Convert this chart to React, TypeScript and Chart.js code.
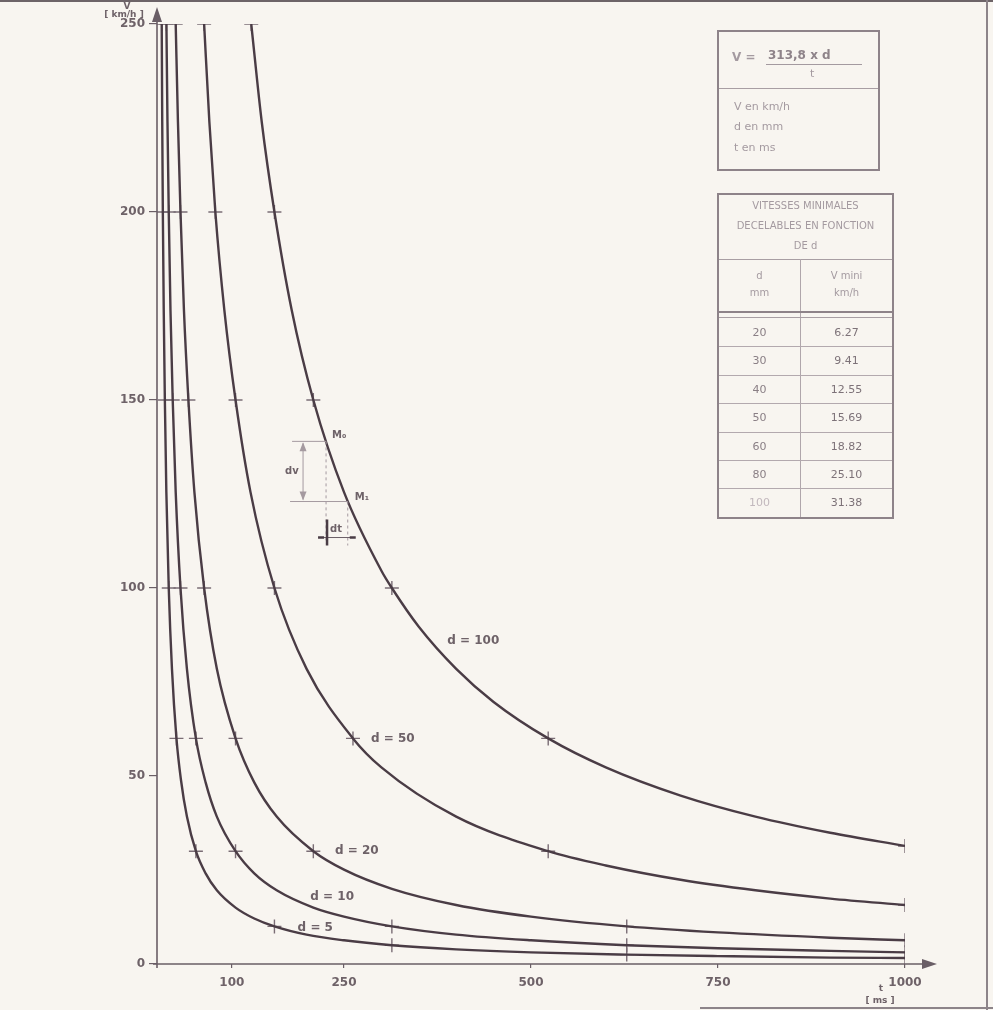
import React, { useEffect, useRef } from "react";
import { Chart, registerables } from "chart.js";

Chart.register(...registerables);

// ---------- data (t in ms, V in km/h) ----------
const xTicks = [100, 250, 500, 750, 1000];
const yTicks = [0, 50, 100, 150, 200, 250];

const curveNames = ["d = 5", "d = 10", "d = 20", "d = 50", "d = 100"];

const d5T = [6.3, 7, 7.8, 9, 10.5, 12.5, 15.7, 20, 26, 32, 40, 52, 65, 80, 105, 130, 157, 200, 250, 314, 400, 500, 628, 750, 900, 1000];
const d5V = [250, 224, 200, 174, 150, 125.5, 100, 78.5, 60, 49, 39.2, 30, 24.1, 19.6, 15, 12.1, 10, 7.8, 6.3, 5, 3.9, 3.1, 2.5, 2.1, 1.7, 1.6];

const d10T = [12.6, 14, 15.7, 18, 21, 25, 31.4, 40, 52, 65, 80, 105, 130, 160, 209, 250, 314, 400, 500, 628, 750, 900, 1000];
const d10V = [250, 224, 200, 174, 150, 125.5, 100, 78.5, 60, 48.3, 39.2, 30, 24.1, 19.6, 15, 12.6, 10, 7.8, 6.3, 5, 4.2, 3.5, 3.1];

const d20T = [25, 28, 31.4, 36, 42, 50, 63, 80, 105, 130, 160, 209, 250, 314, 400, 500, 628, 750, 900, 1000];
const d20V = [250, 224, 200, 174, 150, 125.5, 100, 78.5, 60, 48.3, 39.2, 30, 25.1, 20, 15.7, 12.6, 10, 8.4, 7, 6.3];

const d50T = [63, 70, 78, 90, 105, 125, 157, 200, 262, 300, 400, 523, 600, 700, 800, 900, 1000];
const d50V = [250, 224, 200, 174, 150, 125.5, 100, 78.5, 60, 52.3, 39.2, 30, 26.2, 22.4, 19.6, 17.4, 15.7];

const d100T = [126, 140, 157, 180, 209, 250, 300, 314, 350, 400, 450, 523, 600, 700, 800, 900, 1000];
const d100V = [250, 224, 200, 174, 150, 125.5, 104.6, 100, 89.7, 78.5, 69.7, 60, 52.3, 44.8, 39.2, 34.9, 31.4];

// marked points (crosses)
const m5T = [6.3, 7.8, 10.5, 15.7, 26, 52, 157, 314, 628, 1000];
const m5V = [250, 200, 150, 100, 60, 30, 10, 5, 2.5, 1.6];
const m10T = [12.6, 15.7, 21, 31.4, 52, 105, 314, 628, 1000];
const m10V = [250, 200, 150, 100, 60, 30, 10, 5, 3.1];
const m20T = [25, 31.4, 42, 63, 105, 209, 628, 1000];
const m20V = [250, 200, 150, 100, 60, 30, 10, 6.3];
const m50T = [63, 78, 105, 157, 262, 523, 1000];
const m50V = [250, 200, 150, 100, 60, 30, 15.7];
const m100T = [126, 157, 209, 314, 523, 1000];
const m100V = [250, 200, 150, 100, 60, 31.4];

// curve label anchors
const labelT = [188, 205, 238, 286, 388];
const labelV = [9.6, 17.8, 30, 60, 86];

// M0 / M1 construction points on d = 100
const mPtT = [226, 255];
const mPtV = [139, 123];

// table
const tableD = ["20", "30", "40", "50", "60", "80", "100"];
const tableVmin = ["6.27", "9.41", "12.55", "15.69", "18.82", "25.10", "31.38"];

const curvesT = [d5T, d10T, d20T, d50T, d100T];
const curvesV = [d5V, d10V, d20V, d50V, d100V];
const marksT = [m5T, m10T, m20T, m50T, m100T];
const marksV = [m5V, m10V, m20V, m50V, m100V];

const LINE = "#4a3c45";
const AXIS = "#6a5e66";
const TXT = "#6e6268";
const BG = "#f8f5f0";

const decorPlugin = {
  id: "decor",
  afterDatasetsDraw(chart: any) {
    const { ctx, chartArea, scales } = chart;
    const x = scales.x;
    const y = scales.y;
    const x0 = x.getPixelForValue(0);
    const y0 = y.getPixelForValue(0);
    ctx.save();
    ctx.strokeStyle = AXIS;
    ctx.fillStyle = AXIS;
    ctx.lineWidth = 1.6;
    // y axis with arrow
    ctx.beginPath();
    ctx.moveTo(x0, y0 + 4);
    ctx.lineTo(x0, chartArea.top - 10);
    ctx.stroke();
    ctx.beginPath();
    ctx.moveTo(x0, chartArea.top - 17);
    ctx.lineTo(x0 - 5, chartArea.top - 2);
    ctx.lineTo(x0 + 5, chartArea.top - 2);
    ctx.closePath();
    ctx.fill();
    // x axis with arrow
    ctx.beginPath();
    ctx.moveTo(x0 - 4, y0);
    ctx.lineTo(chartArea.right + 22, y0);
    ctx.stroke();
    ctx.beginPath();
    ctx.moveTo(chartArea.right + 32, y0);
    ctx.lineTo(chartArea.right + 17, y0 - 5);
    ctx.lineTo(chartArea.right + 17, y0 + 5);
    ctx.closePath();
    ctx.fill();

    // unit labels
    ctx.fillStyle = TXT;
    ctx.font = "bold 9px 'DejaVu Sans'";
    ctx.textAlign = "center";
    ctx.textBaseline = "middle";
    ctx.fillText("V", x0 - 30, chartArea.top - 17);
    ctx.fillText("[ km/h ]", x0 - 33, chartArea.top - 9);
    ctx.fillText("t", chartArea.right - 24, y0 + 25);
    ctx.fillText("[ ms ]", chartArea.right - 25, y0 + 37);

    // curve labels
    ctx.font = "bold 12px 'DejaVu Sans'";
    ctx.textAlign = "left";
    for (let i = 0; i < curveNames.length; i++) {
      ctx.fillText(curveNames[i], x.getPixelForValue(labelT[i]), y.getPixelForValue(labelV[i]));
    }

    // dv / dt construction
    const m0x = x.getPixelForValue(mPtT[0]);
    const m0y = y.getPixelForValue(mPtV[0]);
    const m1x = x.getPixelForValue(mPtT[1]);
    const m1y = y.getPixelForValue(mPtV[1]);
    ctx.strokeStyle = "#a59aa0";
    ctx.lineWidth = 1;
    ctx.beginPath();
    ctx.moveTo(m0x - 34, m0y);
    ctx.lineTo(m0x, m0y);
    ctx.moveTo(m0x - 36, m1y);
    ctx.lineTo(m1x, m1y);
    ctx.stroke();
    ctx.setLineDash([3, 3]);
    ctx.beginPath();
    ctx.moveTo(m0x, m0y);
    ctx.lineTo(m0x, m1y + 42);
    ctx.moveTo(m1x, m1y);
    ctx.lineTo(m1x, m1y + 44);
    ctx.stroke();
    ctx.setLineDash([]);
    // dv arrow
    const ax = m0x - 23;
    ctx.beginPath();
    ctx.moveTo(ax, m0y + 2);
    ctx.lineTo(ax, m1y - 2);
    ctx.stroke();
    ctx.fillStyle = "#a59aa0";
    ctx.beginPath();
    ctx.moveTo(ax, m0y + 1);
    ctx.lineTo(ax - 3.5, m0y + 10);
    ctx.lineTo(ax + 3.5, m0y + 10);
    ctx.closePath();
    ctx.fill();
    ctx.beginPath();
    ctx.moveTo(ax, m1y - 1);
    ctx.lineTo(ax - 3.5, m1y - 10);
    ctx.lineTo(ax + 3.5, m1y - 10);
    ctx.closePath();
    ctx.fill();
    // dt arrow
    const dy = m1y + 36;
    ctx.strokeStyle = "#6a5e66";
    ctx.beginPath();
    ctx.moveTo(m0x - 6, dy);
    ctx.lineTo(m1x + 6, dy);
    ctx.stroke();
    ctx.lineWidth = 2.5;
    ctx.strokeStyle = "#4a3c45";
    ctx.beginPath();
    ctx.moveTo(m0x + 1, m1y + 18);
    ctx.lineTo(m0x + 1, m1y + 44);
    ctx.moveTo(m0x - 8, dy);
    ctx.lineTo(m0x - 2, dy);
    ctx.moveTo(m1x + 2, dy);
    ctx.lineTo(m1x + 8, dy);
    ctx.stroke();

    ctx.fillStyle = TXT;
    ctx.font = "bold 10px 'DejaVu Sans'";
    ctx.textAlign = "left";
    ctx.fillText("M\u2080", m0x + 6, m0y - 6);
    ctx.fillText("M\u2081", m1x + 7, m1y - 4);
    ctx.fillText("dv", m0x - 41, (m0y + m1y) / 2);
    ctx.fillText("dt", m0x + 4, m1y + 28);
    ctx.restore();
  },
};

const boxText: React.CSSProperties = {
  position: "absolute",
  fontFamily: "'DejaVu Sans', sans-serif",
  color: "#a49aa0",
  whiteSpace: "nowrap",
};

export default function App() {
  const ref = useRef<HTMLCanvasElement | null>(null);

  useEffect(() => {
    if (!ref.current) return;
    const datasets: any[] = [];
    for (let i = 0; i < curveNames.length; i++) {
      datasets.push({
        label: curveNames[i],
        data: curvesT[i].map((t, j) => ({ x: t, y: curvesV[i][j] })),
        borderColor: LINE,
        borderWidth: 2.4,
        pointRadius: 0,
        cubicInterpolationMode: "monotone",
        fill: false,
      });
    }
    for (let i = 0; i < curveNames.length; i++) {
      datasets.push({
        label: curveNames[i] + " marks",
        data: marksT[i].map((t, j) => ({ x: t, y: marksV[i][j] })),
        showLine: false,
        pointStyle: "cross",
        pointRadius: 7,
        pointBorderWidth: 1.4,
        pointBorderColor: "#7a6d75",
        borderColor: "#7a6d75",
      });
    }
    const chart = new Chart(ref.current, {
      type: "line",
      data: { datasets },
      plugins: [decorPlugin],
      options: {
        animation: false,
        responsive: true,
        maintainAspectRatio: false,
        layout: { padding: { top: 24, right: 88, left: 0, bottom: 0 } },
        plugins: { legend: { display: false }, tooltip: { enabled: false } },
        scales: {
          x: {
            type: "linear",
            min: 0,
            max: 1000,
            afterBuildTicks: (s: any) => {
              s.ticks = xTicks.map((v) => ({ value: v }));
            },
            afterFit: (s: any) => {
              s.height = 46;
            },
            grid: { drawOnChartArea: false, tickLength: 4, color: AXIS, lineWidth: 1.2 },
            border: { display: false },
            ticks: {
              padding: 8,
              color: TXT,
              maxRotation: 0,
              callback: (v: any) => String(v),
              font: { family: "'DejaVu Sans'", size: 12, weight: "bold" },
            },
          },
          y: {
            type: "linear",
            min: 0,
            max: 250,
            afterBuildTicks: (s: any) => {
              s.ticks = yTicks.map((v) => ({ value: v }));
            },
            afterFit: (s: any) => {
              s.width = 157;
            },
            grid: { drawOnChartArea: false, tickLength: 8, color: AXIS, lineWidth: 1.2 },
            border: { display: false },
            ticks: {
              padding: 4,
              color: TXT,
              callback: (v: any) => String(v),
              font: { family: "'DejaVu Sans'", size: 12, weight: "bold" },
            },
          },
        },
      } as any,
    });
    return () => chart.destroy();
  }, []);

  const rowTop = 318;
  const rowH = 28.4;

  return (
    <div style={{ position: "fixed", left: 0, top: 0, width: 993, height: 1010, background: BG, overflow: "hidden" }}>
      <canvas ref={ref} />
      {/* scan border lines */}
      <div style={{ position: "absolute", left: 0, top: 0, width: 993, height: 2, background: "#6d6468" }} />
      <div style={{ position: "absolute", left: 986, top: 0, width: 2, height: 1010, background: "#8d8489" }} />
      <div style={{ position: "absolute", left: 700, top: 1007, width: 293, height: 2, background: "#8d8489" }} />

      {/* formula box */}
      <div style={{ position: "absolute", left: 717, top: 30, width: 159, height: 137, border: "2px solid #8e8389", boxSizing: "content-box" }} />
      <div style={{ position: "absolute", left: 719, top: 88, width: 159, height: 1, background: "#a89ea3" }} />
      <div style={{ ...boxText, left: 732, top: 50, fontSize: 12, fontWeight: "bold" }}>V =</div>
      <div style={{ ...boxText, left: 768, top: 48, fontSize: 12, fontWeight: "bold", color: "#8e8389" }}>313,8 x d</div>
      <div style={{ position: "absolute", left: 766, top: 64, width: 96, height: 1, background: "#a49aa0" }} />
      <div style={{ ...boxText, left: 810, top: 67, fontSize: 11 }}>t</div>
      <div style={{ ...boxText, left: 734, top: 100, fontSize: 11 }}>V en km/h</div>
      <div style={{ ...boxText, left: 734, top: 120, fontSize: 11 }}>d en mm</div>
      <div style={{ ...boxText, left: 734, top: 141, fontSize: 11 }}>t en ms</div>

      {/* table box */}
      <div style={{ position: "absolute", left: 717, top: 193, width: 173, height: 322, border: "2px solid #8e8389", boxSizing: "content-box" }} />
      <div style={{ ...boxText, left: 719, width: 173, textAlign: "center", top: 200, fontSize: 10 }}>VITESSES MINIMALES</div>
      <div style={{ ...boxText, left: 719, width: 173, textAlign: "center", top: 220, fontSize: 10 }}>DECELABLES EN FONCTION</div>
      <div style={{ ...boxText, left: 719, width: 173, textAlign: "center", top: 240, fontSize: 10 }}>DE d</div>
      <div style={{ position: "absolute", left: 719, top: 259, width: 173, height: 1, background: "#a89ea3" }} />
      <div style={{ position: "absolute", left: 800, top: 259, width: 1, height: 258, background: "#b0a6ab" }} />
      <div style={{ ...boxText, left: 719, width: 81, textAlign: "center", top: 270, fontSize: 10 }}>d</div>
      <div style={{ ...boxText, left: 719, width: 81, textAlign: "center", top: 287, fontSize: 10 }}>mm</div>
      <div style={{ ...boxText, left: 801, width: 91, textAlign: "center", top: 270, fontSize: 10 }}>V mini</div>
      <div style={{ ...boxText, left: 801, width: 91, textAlign: "center", top: 287, fontSize: 10 }}>km/h</div>
      <div style={{ position: "absolute", left: 719, top: 311, width: 173, height: 2, background: "#8e8389" }} />
      <div style={{ position: "absolute", left: 719, top: 317, width: 173, height: 1, background: "#a89ea3" }} />
      {tableD.map((d, i) => (
        <React.Fragment key={d}>
          {i > 0 && (
            <div style={{ position: "absolute", left: 719, top: rowTop + i * rowH, width: 173, height: 1, background: "#b3a9ae" }} />
          )}
          <div style={{ ...boxText, left: 719, width: 81, textAlign: "center", top: rowTop + i * rowH + 8, fontSize: 11, color: i === 6 ? "#c2b8bd" : "#8a7f85" }}>{d}</div>
          <div style={{ ...boxText, left: 801, width: 91, textAlign: "center", top: rowTop + i * rowH + 8, fontSize: 11, color: "#7d7278" }}>{tableVmin[i]}</div>
        </React.Fragment>
      ))}
    </div>
  );
}
